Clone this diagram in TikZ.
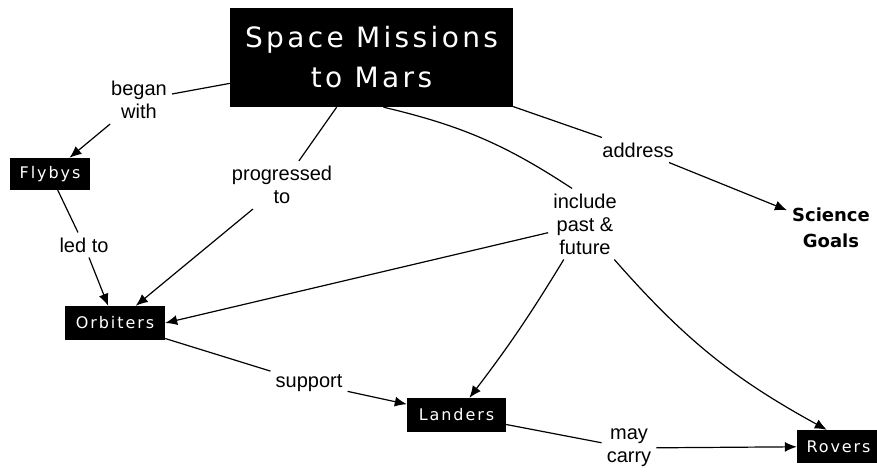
\documentclass[tikz,border=0pt]{standalone}
\usepackage{fontspec}
\setmainfont{Liberation Sans}
\newfontfamily\boxfont[LetterSpace=12]{DejaVu Sans}
\newfontfamily\goalfont{DejaVu Sans}
\usetikzlibrary{arrows.meta}

\begin{document}
\begin{tikzpicture}[x=1pt,y=1pt,
  concept/.style={fill=black,text=white,inner sep=0pt,font=\boxfont\fontsize{16}{19}\selectfont},
  linkword/.style={align=center,inner sep=5pt,font=\fontsize{20}{23}\selectfont},
  link/.style={line width=1.2pt},
  linkarr/.style={line width=1.2pt,-{Latex[length=12pt,width=10pt]}}]
\useasboundingbox (0,0) rectangle (877,474);
% concepts
\node[concept,minimum width=283,minimum height=99,align=center,
  font=\boxfont\fontsize{28}{40}\selectfont] (title) at (371.5,416.5) {Space Missions\\to Mars};
\node[concept,minimum width=80,minimum height=32] (flybys) at (50,300) {Flybys};
\node[concept,minimum width=100,minimum height=34] (orbiters) at (115,151) {Orbiters};
\node[concept,minimum width=99,minimum height=34] (landers) at (456.5,59) {Landers};
\node[concept,minimum width=83,minimum height=33] (rovers) at (838.5,27.5) {Rovers};
\node[align=center,inner sep=5pt,font=\goalfont\bfseries\fontsize{18}{26}\selectfont] (science) at (831,246) {Science\\Goals};
% linking words
\node[linkword] (began) at (139,374) {began\\with};
\node[linkword] (prog) at (282,289) {progressed\\to};
\node[linkword] (ledto) at (84,229) {led to};
\node[linkword] (incl) at (585,250) {include\\past \&\\future};
\node[linkword] (addr) at (638,324) {address};
\node[linkword] (support) at (309,91) {support};
\node[linkword] (maycarry) at (629,26) {may\\carry};
% links
\draw[link] (title) -- (began);
\draw[linkarr] (began) -- (flybys);
\draw[link] (flybys) -- (ledto);
\draw[linkarr] (ledto) -- (orbiters);
\draw[link] (title) -- (prog);
\draw[linkarr] (prog) -- (orbiters);
\draw[link] ([xshift=12pt]title.south) to[bend left=10] (incl.110);
\draw[linkarr] (incl) -- (orbiters.east);
\draw[linkarr] (incl) to[bend left=3] (landers);
\draw[linkarr] (incl) to[bend right=10] (rovers.125);
\draw[link] (title) -- (addr);
\draw[linkarr] (addr) -- (science);
\draw[link] (orbiters) -- (support);
\draw[linkarr] (support) -- (landers);
\draw[link] (landers) -- (maycarry);
\draw[linkarr] (maycarry) -- (rovers);
\end{tikzpicture}
\end{document}
